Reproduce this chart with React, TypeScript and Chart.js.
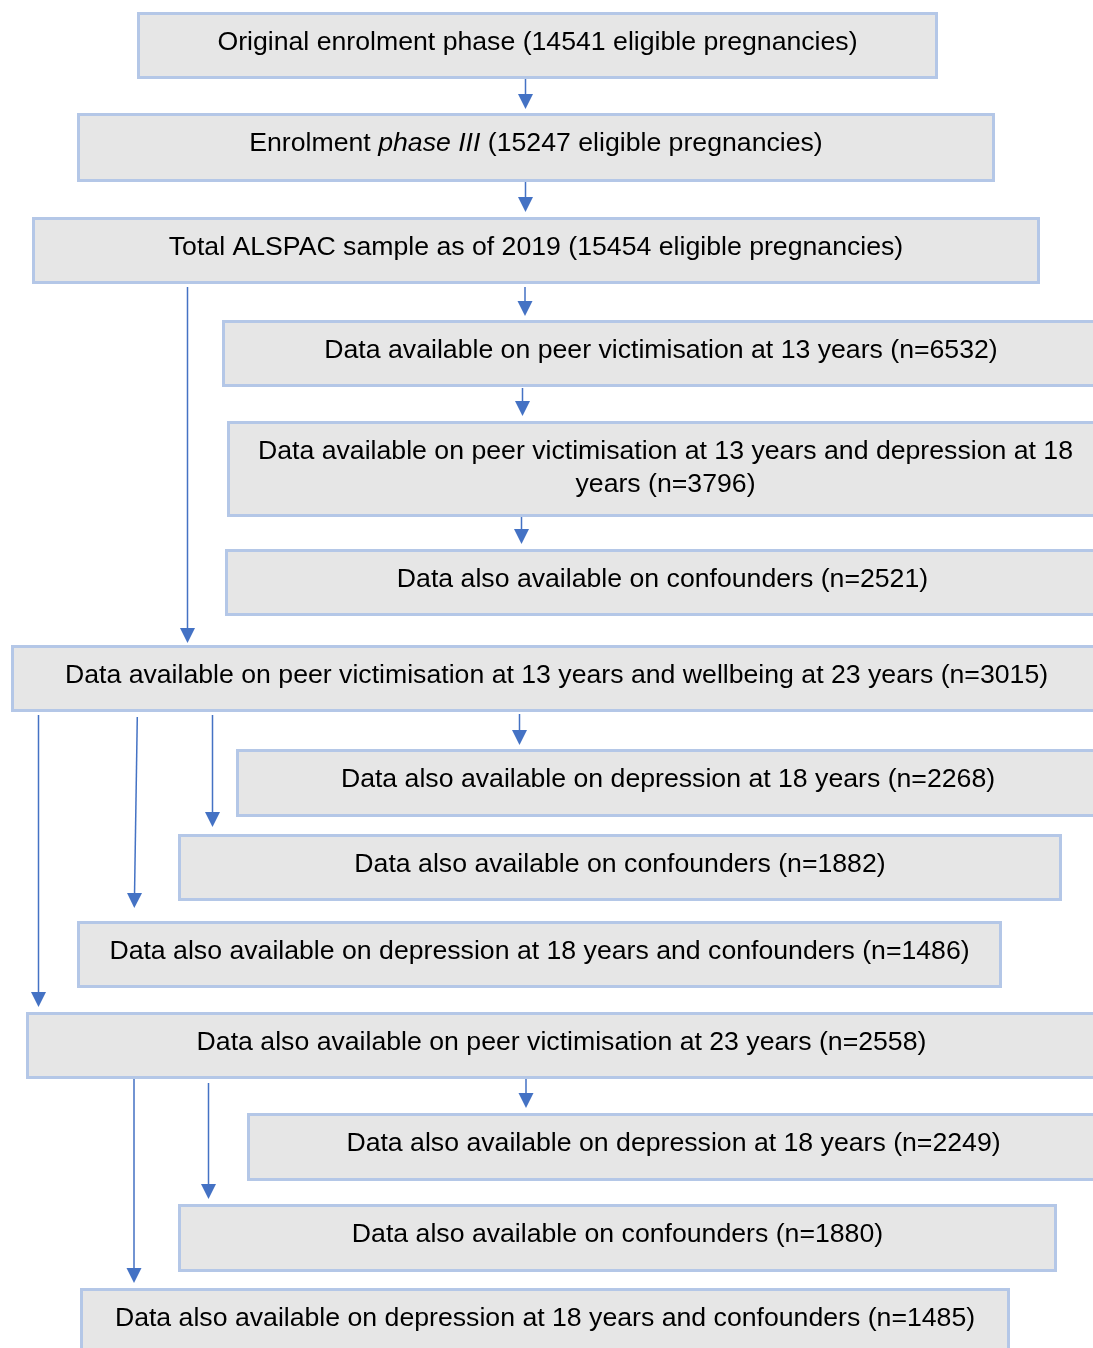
import React, { useEffect, useRef } from "react";
import { Chart, registerables } from "chart.js";

Chart.register(...registerables);

// ---- Flowchart content (text; *...* marks italic) ----
const boxLines: string[][] = [
  ["Original enrolment phase (14541 eligible pregnancies)"],
  ["Enrolment *phase III* (15247 eligible pregnancies)"],
  ["Total ALSPAC sample as of 2019 (15454 eligible pregnancies)"],
  ["Data available on peer victimisation at 13 years (n=6532)"],
  ["Data available on peer victimisation at 13 years and depression at 18", "years (n=3796)"],
  ["Data also available on confounders (n=2521)"],
  ["Data available on peer victimisation at 13 years and wellbeing at 23 years (n=3015)"],
  ["Data also available on depression at 18 years (n=2268)"],
  ["Data also available on confounders (n=1882)"],
  ["Data also available on depression at 18 years and confounders (n=1486)"],
  ["Data also available on peer victimisation at 23 years (n=2558)"],
  ["Data also available on depression at 18 years (n=2249)"],
  ["Data also available on confounders (n=1880)"],
  ["Data also available on depression at 18 years and confounders (n=1485)"],
];

// ---- Box extents (in chart units = page pixels) ----
const boxLeft = [137, 77, 32, 222, 227, 225, 11, 236, 178, 77, 26, 247, 178, 80];
const boxRight = [938, 995, 1040, 1100, 1104, 1100, 1102, 1100, 1062, 1002, 1097, 1100, 1057, 1010];
const boxTop = [12, 113, 217, 320, 421, 549, 645, 749, 834, 921, 1012, 1113, 1204, 1288];
const boxBottom = [79, 182, 284, 387, 517, 616, 712, 817, 901, 988, 1079, 1181, 1272, 1360];

// ---- Arrows: start point and tip ----
const arrowX0 = [525.5, 525.5, 525, 522.5, 521.5, 187.5, 519.5, 212.5, 137.3, 38.5, 526, 208.5, 134];
const arrowY0 = [79, 182, 287, 388, 517, 287, 714, 715, 717, 715, 1079, 1083, 1079];
const arrowX1 = [525.5, 525.5, 525, 522.5, 521.5, 187.5, 519.5, 212.5, 134.3, 38.5, 526, 208.5, 134];
const arrowY1 = [109, 212, 316, 416, 544, 643, 745, 827, 908, 1007, 1108, 1199, 1283];

const W = 1093;
const H = 1348;
const FILL = "#e6e6e6";
const BORDER = "#b4c7e7";
const ARROW = "#4472c4";
const FONT_PX = 26.67;
const HEAD_LEN = 15;
const HEAD_HALF = 7.5;

function fontFor(italic: boolean) {
  return `${italic ? "italic " : ""}${FONT_PX}px "Liberation Sans", Arial, sans-serif`;
}

const flowPlugin = {
  id: "flowBoxes",
  beforeDatasetsDraw(chart: any) {
    const { ctx, scales } = chart;
    const xs = scales.x;
    const ys = scales.y;
    ctx.save();
    for (let i = 0; i < boxLines.length; i++) {
      const l = xs.getPixelForValue(boxLeft[i]);
      const r = xs.getPixelForValue(boxRight[i]);
      const t = ys.getPixelForValue(boxTop[i]);
      const b = ys.getPixelForValue(boxBottom[i]);
      ctx.fillStyle = FILL;
      ctx.fillRect(l + 1.5, t + 1.5, r - l - 3, b - t - 3);
      ctx.strokeStyle = BORDER;
      ctx.lineWidth = 3;
      ctx.strokeRect(l + 1.5, t + 1.5, r - l - 3, b - t - 3);

      const cx = (l + r) / 2;
      ctx.fillStyle = "#000000";
      ctx.textBaseline = "alphabetic";
      ctx.textAlign = "left";
      boxLines[i].forEach((line, li) => {
        const parts = line.split("*");
        let total = 0;
        parts.forEach((p, pi) => {
          ctx.font = fontFor(pi % 2 === 1);
          total += ctx.measureText(p).width;
        });
        let x = cx - total / 2;
        const y = t + 37.5 + li * 33;
        parts.forEach((p, pi) => {
          ctx.font = fontFor(pi % 2 === 1);
          ctx.fillText(p, x, y);
          x += ctx.measureText(p).width;
        });
      });
    }
    ctx.restore();
  },
  afterDatasetsDraw(chart: any) {
    const { ctx, scales } = chart;
    const xs = scales.x;
    const ys = scales.y;
    ctx.save();
    ctx.fillStyle = ARROW;
    for (let i = 0; i < arrowX0.length; i++) {
      const x0 = xs.getPixelForValue(arrowX0[i]);
      const y0 = ys.getPixelForValue(arrowY0[i]);
      const x1 = xs.getPixelForValue(arrowX1[i]);
      const y1 = ys.getPixelForValue(arrowY1[i]);
      const dx = x1 - x0;
      const dy = y1 - y0;
      const len = Math.sqrt(dx * dx + dy * dy);
      const ux = dx / len;
      const uy = dy / len;
      const bx = x1 - ux * HEAD_LEN;
      const by = y1 - uy * HEAD_LEN;
      ctx.beginPath();
      ctx.moveTo(x1, y1);
      ctx.lineTo(bx - uy * HEAD_HALF, by + ux * HEAD_HALF);
      ctx.lineTo(bx + uy * HEAD_HALF, by - ux * HEAD_HALF);
      ctx.closePath();
      ctx.fill();
    }
    ctx.restore();
  },
};

export default function App() {
  const canvasRef = useRef<HTMLCanvasElement | null>(null);

  useEffect(() => {
    if (!canvasRef.current) return;
    const datasets = arrowX0.map((_, i) => {
      const dx = arrowX1[i] - arrowX0[i];
      const dy = arrowY1[i] - arrowY0[i];
      const len = Math.sqrt(dx * dx + dy * dy);
      const k = (len - HEAD_LEN + 2) / len;
      return {
        type: "line" as const,
        label: `arrow${i}`,
        data: [
          { x: arrowX0[i], y: arrowY0[i] },
          { x: arrowX0[i] + dx * k, y: arrowY0[i] + dy * k },
        ],
        borderColor: ARROW,
        borderWidth: 1.5,
        pointRadius: 0,
        showLine: true,
        fill: false,
        tension: 0,
      };
    });

    const chart = new Chart(canvasRef.current, {
      type: "scatter",
      data: { datasets: datasets as any },
      options: {
        animation: false,
        responsive: true,
        maintainAspectRatio: false,
        layout: { padding: 0 },
        events: [],
        plugins: {
          legend: { display: false },
          tooltip: { enabled: false },
          title: { display: false },
        },
        scales: {
          x: { type: "linear", min: 0, max: W, display: false },
          y: { type: "linear", min: 0, max: H, reverse: true, display: false },
        },
      },
      plugins: [flowPlugin],
    });
    return () => chart.destroy();
  }, []);

  return (
    <div
      style={{
        position: "absolute",
        left: 0,
        top: 0,
        width: W,
        height: H,
        background: "#ffffff",
      }}
    >
      <canvas ref={canvasRef} />
    </div>
  );
}
